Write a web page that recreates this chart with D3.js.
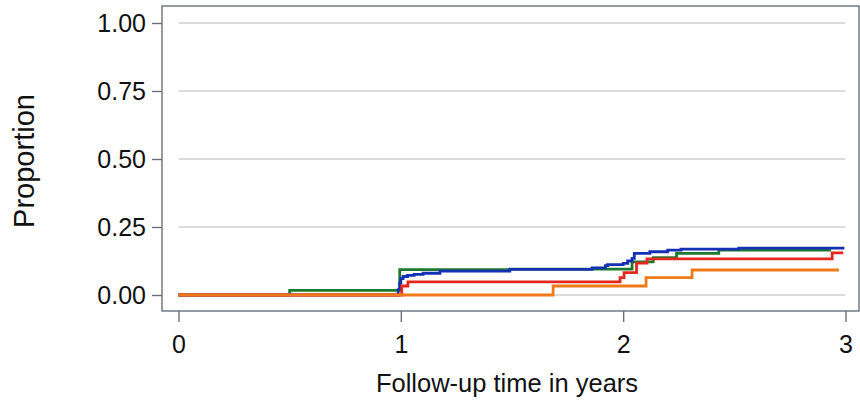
<!DOCTYPE html>
<html>
<head>
<meta charset="utf-8">
<script src="https://cdn.jsdelivr.net/npm/d3@7"></script>
<style>
  body { margin: 0; background: #fff; }
  svg { display: block; font-family: "Liberation Sans", Arial, sans-serif; }
</style>
</head>
<body>
<div id="chart"></div>
<script>
// Step curves: time (years) where each step starts, and value from that time on.
// The last entry is where the line ends.
const greenTimes  = [0, 0.50, 0.995, 1.49, 2.04, 2.135, 2.24, 2.43, 2.935];
const greenValues = [0, 0.017, 0.093, 0.095, 0.122, 0.137, 0.153, 0.165, 0.165];

const blueTimes  = [0, 0.988, 0.995, 1.0, 1.01, 1.03, 1.06, 1.10, 1.176, 1.49, 1.86, 1.92, 1.93, 2.0, 2.02, 2.04, 2.05, 2.12, 2.2, 2.26, 2.52, 2.995];
const blueValues = [0, 0.02, 0.045, 0.06, 0.068, 0.072, 0.076, 0.080, 0.088, 0.094, 0.10, 0.108, 0.112, 0.116, 0.125, 0.135, 0.153, 0.159, 0.165, 0.169, 0.172, 0.172];

const redTimes  = [0, 1.004, 1.032, 1.986, 2.004, 2.06, 2.107, 2.94, 2.99];
const redValues = [0, 0.033, 0.048, 0.064, 0.082, 0.117, 0.133, 0.155, 0.155];

const orangeTimes  = [0, 1.685, 2.103, 2.31, 2.97];
const orangeValues = [0, 0.033, 0.064, 0.092, 0.092];

const xTicks = [0, 1, 2, 3];
const yTicks = [0, 0.25, 0.5, 0.75, 1];

const series = [
  { times: greenTimes, values: greenValues, color: '#1b7a30' },
  { times: blueTimes, values: blueValues, color: '#1431b4' },
  { times: redTimes, values: redValues, color: '#e5281f' },
  { times: orangeTimes, values: orangeValues, color: '#f07a1a' }
];

const W = 860, H = 401;
const box = { left: 162, right: 859, top: 6, bottom: 311 };

const svg = d3.select('#chart').append('svg')
  .attr('width', W)
  .attr('height', H);

const x = d3.scaleLinear().domain([0, 3]).range([178.5, 845.5]);
const y = d3.scaleLinear().domain([0, 1]).range([295, 23]);

// Grid lines
svg.append('g')
  .selectAll('line')
  .data(yTicks)
  .join('line')
  .attr('x1', x(0))
  .attr('x2', x(3))
  .attr('y1', d => y(d))
  .attr('y2', d => y(d))
  .attr('stroke', '#d2d2d2')
  .attr('stroke-width', 1.3);

// Curves
const line = d3.line()
  .x(d => x(d[0]))
  .y(d => y(d[1]))
  .curve(d3.curveStepAfter);

series.forEach(s => {
  const pts = s.times.map((t, i) => [t, s.values[i]]);
  svg.append('path')
    .datum(pts)
    .attr('fill', 'none')
    .attr('stroke', s.color)
    .attr('stroke-width', 2.8)
    .attr('d', line);
});

// Plot frame
svg.append('rect')
  .attr('x', box.left)
  .attr('y', box.top)
  .attr('width', box.right - box.left)
  .attr('height', box.bottom - box.top)
  .attr('fill', 'none')
  .attr('stroke', '#6a6f7c')
  .attr('stroke-width', 1.4);

// Y axis
const yAxis = svg.append('g')
  .attr('transform', `translate(${box.left},0)`)
  .call(d3.axisLeft(y).tickValues(yTicks).tickFormat(d3.format('.2f')).tickSize(10).tickPadding(6));
yAxis.select('.domain').remove();
yAxis.selectAll('line').attr('stroke', '#6a6f7c').attr('stroke-width', 1.4);
yAxis.selectAll('text')
  .attr('fill', '#111')
  .style('font-size', '25px')
  .style('font-family', '"Liberation Sans", Arial, sans-serif');

// X axis
const xAxis = svg.append('g')
  .attr('transform', `translate(0,${box.bottom})`)
  .call(d3.axisBottom(x).tickValues(xTicks).tickFormat(d3.format('d')).tickSize(11).tickPadding(13));
xAxis.select('.domain').remove();
xAxis.selectAll('line').attr('stroke', '#6a6f7c').attr('stroke-width', 1.4);
xAxis.selectAll('text')
  .attr('fill', '#111')
  .style('font-size', '25px')
  .style('font-family', '"Liberation Sans", Arial, sans-serif');

// Axis titles
svg.append('text')
  .attr('x', 507)
  .attr('y', 392)
  .attr('text-anchor', 'middle')
  .attr('fill', '#111')
  .style('font-size', '25.5px')
  .text('Follow-up time in years');

svg.append('text')
  .attr('transform', `translate(34, ${(y(0) + y(1)) / 2 + 2}) rotate(-90)`)
  .attr('text-anchor', 'middle')
  .attr('fill', '#111')
  .style('font-size', '29px')
  .text('Proportion');
</script>
</body>
</html>
